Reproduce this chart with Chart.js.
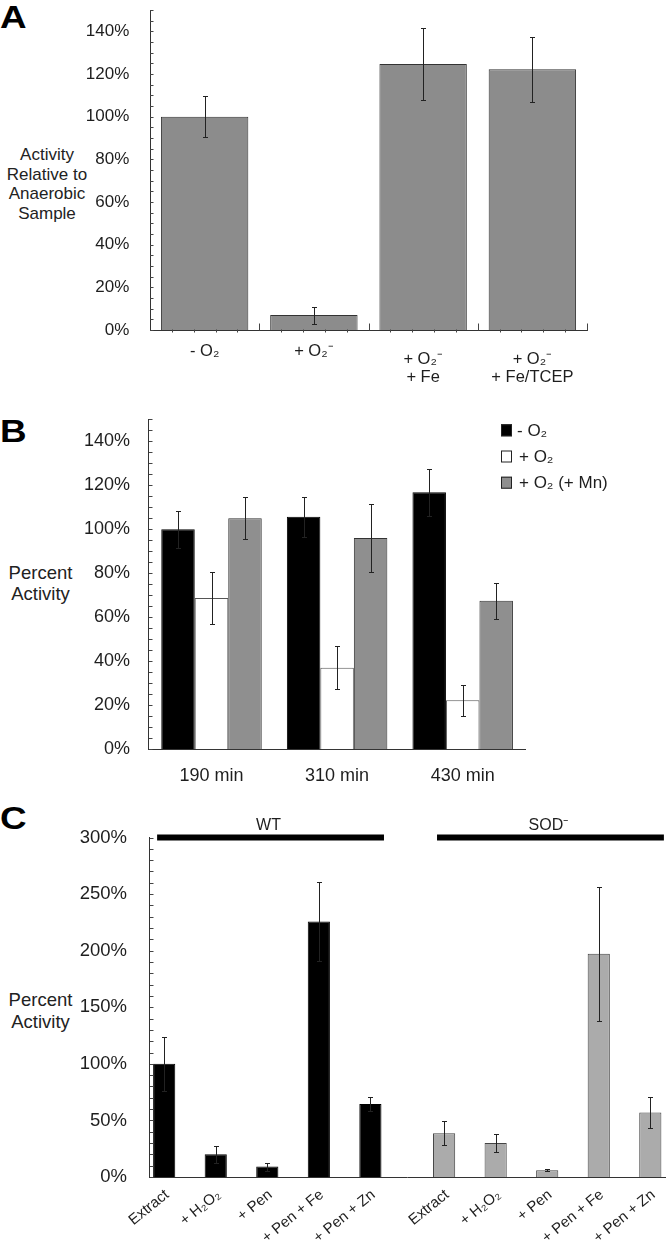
<!DOCTYPE html>
<html><head><meta charset="utf-8">
<script src="https://cdn.jsdelivr.net/npm/chart.js@4.4.0/dist/chart.umd.min.js"></script>
<style>
html,body{margin:0;padding:0;background:#fff;}
body{width:666px;height:1244px;position:relative;overflow:hidden;font-family:'Liberation Sans',Arial,Helvetica,sans-serif;color:#222;}
canvas{position:absolute;left:0;}
.lbl{position:absolute;left:0;font-weight:bold;font-size:32px;line-height:32px;color:#000;transform:scaleX(1.15);transform-origin:left top;}
.yt{position:absolute;left:0;text-align:center;color:#222;}
</style></head><body>
<div class="lbl" style="top:1px">A</div>
<div class="lbl" style="top:415px">B</div>
<div class="lbl" style="top:802px">C</div>
<div class="yt" style="top:145px;width:94px;font-size:17px;line-height:19.5px">Activity<br>Relative to<br>Anaerobic<br>Sample</div>
<div class="yt" style="top:562px;width:81px;font-size:18.5px;line-height:21.3px">Percent<br>Activity</div>
<div class="yt" style="top:989px;width:81px;font-size:18.5px;line-height:21.7px">Percent<br>Activity</div>
<canvas id="cA" width="666" height="388" style="top:0px"></canvas>
<canvas id="cB" width="666" height="407" style="top:388px"></canvas>
<canvas id="cC" width="666" height="449" style="top:795px"></canvas>
<script>
const FONT = "'Liberation Sans', Arial, Helvetica, sans-serif";

// ---------- Panel A ----------
const catsA = ['- O₂', '+ O₂⁻', ['+ O₂⁻', '+ Fe'], ['+ O₂⁻', '+ Fe/TCEP']];
const valsA = [100, 7, 124.7, 122.2];
const errA  = [9.5, 4, 17, 15.2];
const tickLabelsA = [0, 20, 40, 60, 80, 100, 120, 140];

// ---------- Panel B ----------
const catsB = ['190 min', '310 min', '430 min'];
const seriesB = ['- O₂', '+ O₂', '+ O₂ (+ Mn)'];
const anaerobicB = [100, 105.7, 116.8];
const errAnaerobicB = [8.5, 9, 10.6];
const aerobicB = [68.8, 37.1, 22.3];
const errAerobicB = [12, 9.7, 7];
const manganeseB = [105, 96, 67.5];
const errManganeseB = [9.5, 15.4, 8.2];
const tickLabelsB = [0, 20, 40, 60, 80, 100, 120, 140];

// ---------- Panel C ----------
const catsC = ['Extract', '+ H₂O₂', '+ Pen', '+ Pen + Fe', '+ Pen + Zn'];
const groupsC = ['WT', 'SOD⁻'];
const wtC = [100, 20.1, 9.2, 225.7, 64.6];
const errWtC = [23.6, 7.7, 3.5, 34.8, 6.2];
const sodC = [38.7, 30.1, 5.9, 197.3, 57];
const errSodC = [10.7, 8.2, 1, 59.3, 14];
const tickLabelsC = [0, 50, 100, 150, 200, 250, 300];

const TEXT = '#1e1e1e';
const AXIS = '#333';

const errorBarPlugin = {
  id: 'errorBars',
  afterDatasetsDraw(chart, args, opts) {
    const ctx = chart.ctx, ys = chart.scales.y;
    chart.data.datasets.forEach((ds, di) => {
      if (!ds.errorBars) return;
      chart.getDatasetMeta(di).data.forEach((bar, i) => {
        const v = ds.data[i], e = ds.errorBars[i];
        if (v == null || e == null) return;
        const x = Math.round(bar.x) + 0.5;
        const yt = Math.round(ys.getPixelForValue(v + e)) + 0.5;
        const yb = Math.round(ys.getPixelForValue(v - e)) + 0.5;
        const c = opts.cap || 2.5;
        ctx.save();
        ctx.strokeStyle = opts.color || '#222';
        ctx.lineWidth = 1;
        ctx.beginPath();
        ctx.moveTo(x, yt); ctx.lineTo(x, yb);
        ctx.moveTo(x - c, yt); ctx.lineTo(x + c, yt);
        ctx.moveTo(x - c, yb); ctx.lineTo(x + c, yb);
        ctx.stroke();
        ctx.restore();
      });
    });
  }
};

// short tick marks pointing into the plot (y axis), plus optional category marks on x
const innerTicksPlugin = {
  id: 'innerTicks',
  afterDraw(chart, args, opts) {
    const ctx = chart.ctx, ys = chart.scales.y, ca = chart.chartArea;
    ctx.save();
    ctx.strokeStyle = '#444';
    ctx.lineWidth = 1;
    ctx.beginPath();
    const lx = Math.round(ca.left) + 0.5;
    ys.ticks.forEach(t => {
      const y = Math.round(ys.getPixelForValue(t.value)) + 0.5;
      ctx.moveTo(lx - 0.5, y); ctx.lineTo(lx + (opts.len || 3), y);
    });
    if (opts.xMarks) {
      const xs = chart.scales.x, n = chart.data.labels.length;
      const by = Math.round(ca.bottom) + 0.5;
      for (let i = 0; i < n; i++) {
        const xb = Math.round(xs.getPixelForValue(i + 0.5)) + 0.5;
        ctx.moveTo(xb, by); ctx.lineTo(xb, by - 7);
        for (let k = 1; k <= 4; k++) {
          const xm = Math.round(xs.getPixelForValue(i - 0.5 + k * 0.2)) + 0.5;
          ctx.moveTo(xm, by - 1); ctx.lineTo(xm, by + 2);
        }
      }
    }
    ctx.stroke();
    ctx.restore();
  }
};

function yScale(max, step, labels, width, pad, size) {
  return {
    min: 0, max: max,
    afterFit(s) { s.width = width; s.paddingTop = 0; s.paddingBottom = 0; },
    border: { color: AXIS, width: 1 },
    grid: { display: false },
    ticks: {
      stepSize: step, autoSkip: false, padding: pad, color: TEXT,
      font: { family: FONT, size: size },
      callback: v => labels.includes(v) ? v + '%' : ''
    }
  };
}

const common = {
  responsive: false, animation: false, devicePixelRatio: 1,
  plugins: { legend: { display: false }, tooltip: { enabled: false }, errorBars: { cap: 2.5 }, innerTicks: { len: 3 } }
};

// ---------- Chart A ----------
new Chart(document.getElementById('cA'), {
  type: 'bar',
  data: {
    labels: catsA,
    datasets: [{
      data: valsA, errorBars: errA,
      backgroundColor: '#8c8c8c', borderColor: '#333', borderWidth: 1,
      categoryPercentage: 0.8, barPercentage: 1
    }]
  },
  options: Object.assign({}, common, {
    plugins: { legend: { display: false }, tooltip: { enabled: false }, errorBars: { cap: 2.5 }, innerTicks: { len: 3, xMarks: true } },
    layout: { padding: { left: 0, right: 79, top: 10, bottom: 0 } },
    scales: {
      x: {
        afterFit(s) { s.height = 58; s.paddingLeft = 0; s.paddingRight = 0; },
        border: { color: AXIS, width: 1 },
        grid: { display: false },
        ticks: {
          padding: 12, color: TEXT, maxRotation: 0, autoSkip: false,
          font: ctx => ({ family: FONT, size: 16.5, lineHeight: Array.isArray(catsA[ctx.index]) ? '18px' : '2px' })
        }
      },
      y: yScale(150, 5, tickLabelsA, 150, 12.7, 17)
    }
  }),
  plugins: [errorBarPlugin, innerTicksPlugin]
});

// ---------- Chart B ----------
const legendBPlugin = {
  id: 'legendB',
  afterDraw(chart) {
    const ctx = chart.ctx;
    ctx.save();
    ctx.font = '17px ' + FONT;
    ctx.textBaseline = 'middle';
    ctx.textAlign = 'left';
    chart.data.datasets.forEach((ds, i) => {
      const cy = 42.3 + i * 26.2;
      ctx.fillStyle = ds.backgroundColor;
      ctx.fillRect(501, cy - 6, 11, 12);
      ctx.strokeStyle = '#222';
      ctx.lineWidth = 1;
      ctx.strokeRect(501.5, cy - 5.5, 10, 11);
      ctx.fillStyle = TEXT;
      ctx.fillText(ds.label, i === 0 ? 517 : 519, cy + 1);
    });
    ctx.restore();
  }
};

new Chart(document.getElementById('cB'), {
  type: 'bar',
  data: {
    labels: catsB,
    datasets: [
      { label: seriesB[0], data: anaerobicB, errorBars: errAnaerobicB, backgroundColor: '#000', borderColor: '#000', borderWidth: 1, categoryPercentage: 0.8, barPercentage: 1 },
      { label: seriesB[1], data: aerobicB, errorBars: errAerobicB, backgroundColor: '#fff', borderColor: '#555', borderWidth: 1, categoryPercentage: 0.8, barPercentage: 1 },
      { label: seriesB[2], data: manganeseB, errorBars: errManganeseB, backgroundColor: '#8f8f8f', borderColor: '#333', borderWidth: 1, categoryPercentage: 0.8, barPercentage: 1 }
    ]
  },
  options: Object.assign({}, common, {
    layout: { padding: { left: 0, right: 140.5, top: 31.3, bottom: 0 } },
    scales: {
      x: {
        afterFit(s) { s.height = 45.7; s.paddingLeft = 0; s.paddingRight = 0; },
        border: { color: AXIS, width: 1 },
        grid: { display: false },
        ticks: { padding: 8, color: TEXT, maxRotation: 0, font: { family: FONT, size: 18 } }
      },
      y: yScale(150, 5, tickLabelsB, 148.7, 10.7, 18)
    }
  }),
  plugins: [errorBarPlugin, innerTicksPlugin, legendBPlugin]
});

// ---------- Chart C ----------
const groupBarsPlugin = {
  id: 'groupBars',
  afterDatasetsDraw(chart) {
    const ctx = chart.ctx, top = chart.chartArea.top;
    ctx.save();
    chart.data.datasets.forEach((ds, di) => {
      const bars = chart.getDatasetMeta(di).data.filter((b, i) => ds.data[i] != null);
      const first = bars[0], last = bars[bars.length - 1];
      const left = first.x - first.width / 2 + 4;
      const right = last.x + last.width / 2 + 2.5;
      ctx.fillStyle = '#000';
      ctx.fillRect(left, top - 3, right - left, 6);
      ctx.font = '16px ' + FONT;
      ctx.textAlign = 'center';
      ctx.textBaseline = 'middle';
      ctx.fillStyle = TEXT;
      ctx.fillText(ds.label, (left + right) / 2 - 2, top - 11.8);
    });
    ctx.restore();
  }
};

const rotLabelsPlugin = {
  id: 'rotLabels',
  afterDraw(chart) {
    const ctx = chart.ctx, base = chart.chartArea.bottom;
    ctx.save();
    ctx.font = '15px ' + FONT;
    ctx.fillStyle = TEXT;
    ctx.textAlign = 'right';
    ctx.textBaseline = 'middle';
    chart.data.datasets.forEach((ds, di) => {
      chart.getDatasetMeta(di).data.forEach((b, i) => {
        if (ds.data[i] == null) return;
        ctx.save();
        ctx.translate(b.x + 3, base + 16);
        ctx.rotate(-39 * Math.PI / 180);
        ctx.fillText(chart.data.labels[i], 0, 0);
        ctx.restore();
      });
    });
    ctx.restore();
  }
};

const none5 = [null, null, null, null, null];
new Chart(document.getElementById('cC'), {
  type: 'bar',
  data: {
    labels: catsC.concat(catsC),
    datasets: [
      { label: groupsC[0], data: wtC.concat(none5), errorBars: errWtC.concat(none5), backgroundColor: '#000', borderColor: '#000', borderWidth: 1, categoryPercentage: 0.86, barPercentage: 1 },
      { label: groupsC[1], data: none5.concat(sodC), errorBars: none5.concat(errSodC), backgroundColor: '#ababab', borderColor: '#444', borderWidth: 1, categoryPercentage: 0.86, barPercentage: 1 }
    ]
  },
  options: Object.assign({}, common, {
    layout: { padding: { left: 0, right: 1, top: 42.5, bottom: 0 } },
    scales: {
      x: {
        afterFit(s) { s.height = 67; s.paddingLeft = 0; s.paddingRight = 0; },
        border: { color: AXIS, width: 1 },
        grid: { display: false },
        ticks: { display: false }
      },
      y: yScale(300, 10, tickLabelsC, 149.5, 14.5, 18.5)
    }
  }),
  plugins: [errorBarPlugin, innerTicksPlugin, groupBarsPlugin, rotLabelsPlugin]
});
</script>
</body></html>
